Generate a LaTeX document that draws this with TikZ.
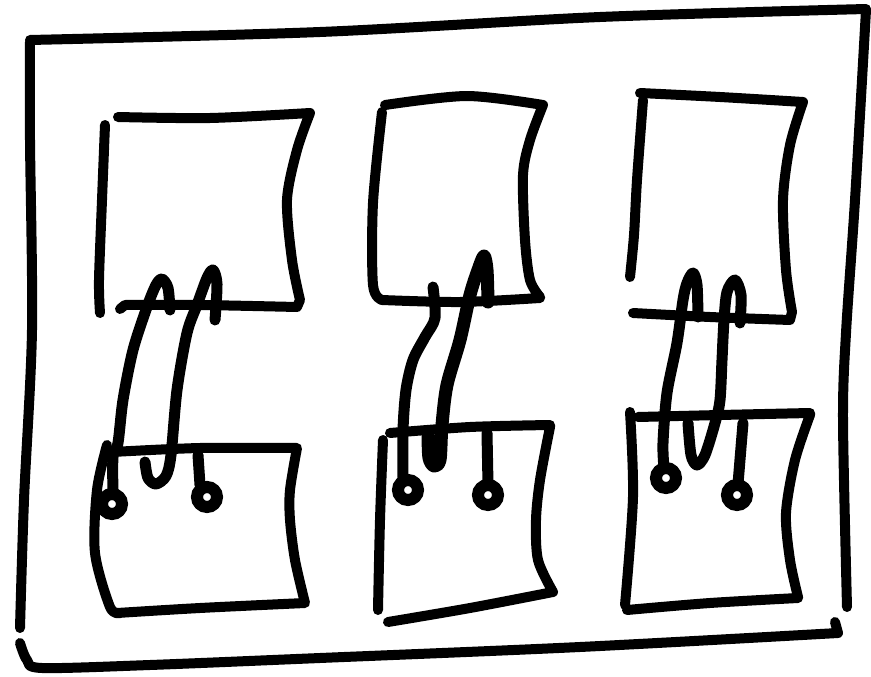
\documentclass[tikz,border=0pt]{standalone}
\begin{document}
\begin{tikzpicture}[x=1pt,y=-1pt,
  sk/.style={line width=10pt,line cap=round,line join=round},
  wr/.style={line width=11pt,line cap=round,line join=round},
  ring/.style={line width=12pt}]
\useasboundingbox (0,0) rectangle (871,677);
% outer frame
\draw[sk] plot[smooth] coordinates {(20,628) (24,500) (32,330) (30,140) (30,42)};
\draw[sk] plot[smooth] coordinates {(30,40) (320,32) (600,17) (866,9)};
\draw[sk] plot[smooth] coordinates {(866,10) (855,200) (846,333) (843,420) (847,607)};
\draw[sk] plot[smooth] coordinates {(20,643) (27,660) (42,668) (150,665) (320,658) (580,647) (838,633)} -- (835,622);
% box 1
\draw[sk] plot[smooth] coordinates {(118,117) (210,118) (310,113)}
  -- plot[smooth] coordinates {(310,113) (297,150) (287,200) (292,260) (300,300)}
  -- (297,307) -- plot[smooth] coordinates {(297,307) (200,305) (125,305)} -- (120,309);
\draw[sk] plot[smooth] coordinates {(105,125) (102,200) (99,280) (100,313)};
% box 2
\draw[sk] plot[smooth] coordinates {(385,105) (467,96) (543,105)}
  -- plot[smooth] coordinates {(543,105) (530,140) (523,175) (525,240) (530,280) (540,297)}
  -- plot[smooth] coordinates {(540,298) (460,302) (382,300)}
  -- plot[smooth] coordinates {(382,300) (373,285) (373,203) (382,112)};
% box 3
\draw[sk] plot[smooth] coordinates {(640,93) (720,97) (803,102)}
  -- plot[smooth] coordinates {(803,102) (790,145) (783,200) (786,270) (792,312)}
  -- (790,320) -- plot[smooth] coordinates {(790,320) (710,317) (633,313)};
\draw[sk] plot[smooth] coordinates {(643,100) (637,180) (634,235) (630,277)};
% box 4
\draw[sk] plot[smooth] coordinates {(112,452) (200,448) (297,448)}
  -- plot[smooth] coordinates {(297,448) (290,490) (290,520) (295,560) (305,603)}
  -- plot[smooth] coordinates {(305,603) (200,608) (117,613)};
\draw[sk] plot[smooth] coordinates {(107,445) (97,490) (95,553) (110,607) (120,613)};
% box 5
\draw[sk] plot[smooth] coordinates {(390,433) (470,427) (550,425)}
  -- plot[smooth] coordinates {(550,427) (540,480) (536,520) (538,560) (553,592)}
  -- plot[smooth] coordinates {(553,592) (470,608) (388,622)};
\draw[sk] plot[smooth] coordinates {(383,440) (380,520) (378,610)};
% box 6
\draw[sk] plot[smooth] coordinates {(638,417) (720,415) (810,413)}
  -- plot[smooth] coordinates {(810,415) (795,460) (786,513) (790,560) (798,597)}
  -- plot[smooth] coordinates {(798,598) (710,603) (627,610)};
\draw[sk] plot[smooth] coordinates {(630,412) (633,497) (625,605)};
% wires 1
\draw[wr] plot[smooth] coordinates {(113,494) (113,457) (118,443) (123,400) (133,350) (147,307) (156,285) (162,279) (168,288) (170,310)};
\draw[ring] (112,504) circle (10);
\draw[wr] plot[smooth] coordinates {(145,462) (148,478) (156,484) (166,476) (171,455) (177,390) (187,333) (197,305) (207,278) (213,270) (217,284) (215,320)};
\draw[wr] (198,455) -- (200,485);
\draw[ring] (207,497) circle (10);
% wires 2
\draw[wr] plot[smooth] coordinates {(433,287) (435,318) (425,337) (413,360) (406,390) (403,430) (403,478)};
\draw[ring] (408,490) circle (10);
\draw[line width=13pt,line cap=round,line join=round] plot[smooth] coordinates {(488,302) (487,270) (484,256) (478,270) (470,295) (460,340) (447,385) (442,425) (440,460) (434,466) (429,458) (428,435)};
\draw[wr] (487,433) -- (488,484);
\draw[ring] (488,495) circle (10);
% wires 3
\draw[wr] plot[smooth] coordinates {(698,317) (697,285) (693,273) (687,283) (683,300) (677,343) (667,393) (663,443) (664,468)};
\draw[ring] (666,478) circle (10);
\draw[wr] plot[smooth] coordinates {(740,323) (741,295) (735,280) (727,292) (724,320) (722,360) (720,400) (715,423) (705,455) (697,465) (691,455) (688,423)};
\draw[wr] (743,423) -- (738,484);
\draw[ring] (737,495) circle (10);
\end{tikzpicture}
\end{document}
